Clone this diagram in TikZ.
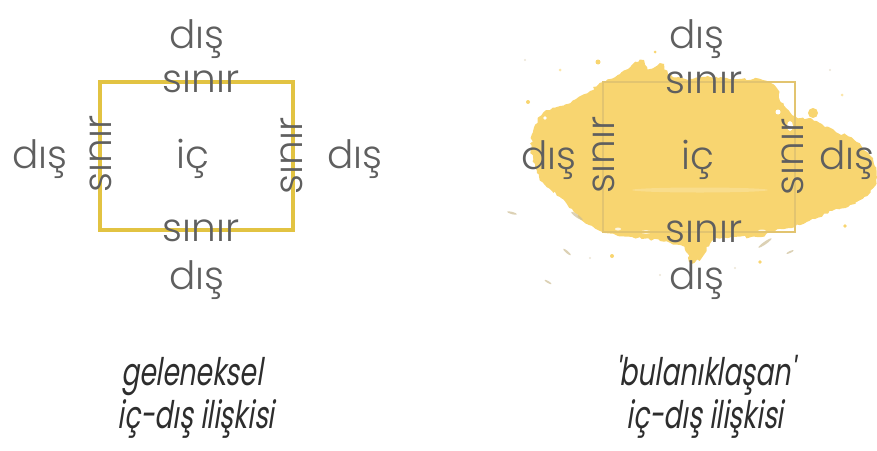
\documentclass[tikz,border=0pt]{standalone}
\usepackage{fontspec}
\setmainfont{Poppins}
\newfontfamily\lblfont{Poppins Light}
\newfontfamily\capfont[FakeStretch=0.70,FakeSlant=0.16]{Poppins}
\usetikzlibrary{decorations.pathmorphing}

\definecolor{frame}{RGB}{226,195,66}
\definecolor{paint}{RGB}{248,213,112}
\definecolor{paintedge}{RGB}{226,196,112}
\definecolor{lbl}{RGB}{95,95,95}
\definecolor{captxt}{RGB}{45,45,45}
\definecolor{speck}{RGB}{205,190,150}

\tikzset{
  lab/.style={font=\lblfont\fontsize{39}{39}\selectfont, text=lbl, inner sep=0pt},
  outer/.style={lab, anchor=base},
  border/.style={lab, anchor=center},
  vborder/.style={border, rotate=90},
  captionline/.style={font=\capfont\fontsize{38}{38}\selectfont, text=captxt, inner sep=0pt, anchor=base},
  drop/.style={fill=paint},
  fleck/.style={fill=speck, opacity=0.7},
}

\begin{document}
\begin{tikzpicture}[x=1pt, y=-1pt]
\useasboundingbox (0,0) rectangle (877,450);

% ---------- classic inside/outside: a crisp frame ----------
\draw[frame, line width=3.2pt] (100,82) rectangle (293,230);

\node[outer] (lT) at (197,48)  {dış};
\node[border] (lbT) at (201,82) {sınır};
\node[outer] (lL) at (40,168)  {dış};
\node[vborder] (lbL) at (101,154) {sınır};
\node[outer] (lC) at (193,168) {iç};
\node[vborder] (lbR) at (292,156) {sınır};
\node[outer] (lR) at (355,168) {dış};
\node[border] (lbB) at (201,231) {sınır};
\node[outer] (lB) at (197,289) {dış};

\node[captionline] (c1a) at (192,385) {geleneksel};
\node[captionline] (c1b) at (196,428) {iç-dış ilişkisi};

% ---------- blurred inside/outside: a paint splash ----------
\fill[paint, decorate, decoration={random steps, segment length=3pt, amplitude=1.4pt}]
  plot[smooth cycle, tension=0.45] coordinates {
    (534,128) (544,112) (560,106) (576,99) (590,91) (600,83) (615,77)
    (628,69) (640,60) (648,69) (660,64) (672,76) (690,79) (710,77)
    (735,79) (760,79) (774,85) (782,100) (790,112) (800,118) (812,119)
    (822,124) (836,132) (850,137) (862,147) (873,160) (876,180) (867,196)
    (850,205) (832,211) (815,219) (800,225) (780,229) (760,237) (735,237)
    (712,241) (702,257) (691,263) (684,247) (660,241) (632,237) (605,233)
    (585,223) (572,209) (560,197) (547,187) (537,173) (531,150)};

% white gaps torn into the splash
\fill[white] (783,96) ellipse (4pt and 7pt);
\fill[white] (790,126) ellipse (3pt and 5pt);
\fill[white] (778,112) circle (2.5pt);
\fill[white] (796,108) circle (2pt);
\fill[white, opacity=0.8] (646,232) ellipse (5pt and 1.8pt);
\fill[white, opacity=0.8] (618,229) ellipse (3pt and 1.5pt);
\fill[white, opacity=0.8] (762,231) ellipse (4pt and 1.5pt);
\fill[white] (545,118) circle (1.8pt);
% pale smear across the middle
\fill[white, opacity=0.2] (700,190) ellipse (68pt and 2.5pt);

% droplets and specks around the splash
\fill[drop] (813,113) circle (5pt);
\fill[drop] (598,62) circle (2.5pt);
\fill[drop] (655,52) circle (1.5pt);
\fill[drop] (528,102) circle (2pt);
\fill[drop] (612,256) circle (2pt);
\fill[drop] (760,262) circle (1.8pt);
\fill[drop] (845,226) circle (1.8pt);
\fill[drop, opacity=0.6] (560,70) circle (1.5pt);
\fill[drop, opacity=0.6] (842,95) circle (1.5pt);
\fill[fleck, rotate around={-15:(512,213)}] (512,213) ellipse (5pt and 1.2pt);
\fill[fleck, rotate around={-35:(577,216)}] (577,216) ellipse (7pt and 1.5pt);
\fill[fleck, rotate around={-40:(567,252)}] (567,252) ellipse (5pt and 1.2pt);
\fill[fleck, rotate around={-30:(548,282)}] (548,282) ellipse (4pt and 1pt);
\fill[fleck, rotate around={35:(765,243)}] (765,243) ellipse (8pt and 1.4pt);
\fill[fleck, rotate around={25:(790,252)}] (790,252) ellipse (4pt and 1pt);
\fill[fleck, opacity=0.4] (590,258) circle (1.2pt);
\fill[fleck, opacity=0.4] (660,275) circle (1.2pt);
\fill[fleck, opacity=0.4] (735,268) circle (1.2pt);
\fill[fleck, opacity=0.4] (525,60) circle (1.2pt);
\fill[fleck, opacity=0.4] (830,70) circle (1.2pt);

\draw[paintedge, line width=1.8pt] (603,82) rectangle (795,232);

\node[outer] (rT) at (697,48)  {dış};
\node[border] (rbT) at (704,83) {sınır};
\node[outer] (rL) at (549,169) {dış};
\node[vborder] (rbL) at (604,155) {sınır};
\node[outer] (rC) at (698,169) {iç};
\node[vborder] (rbR) at (793,157) {sınır};
\node[outer] (rR) at (847,169) {dış};
\node[border] (rbB) at (704,232) {sınır};
\node[outer] (rB) at (697,289) {dış};

\node[captionline] (c2a) at (705,385) {'bulanıklaşan'};
\node[captionline] (c2b) at (705,428) {iç-dış ilişkisi};
\end{tikzpicture}
\end{document}
